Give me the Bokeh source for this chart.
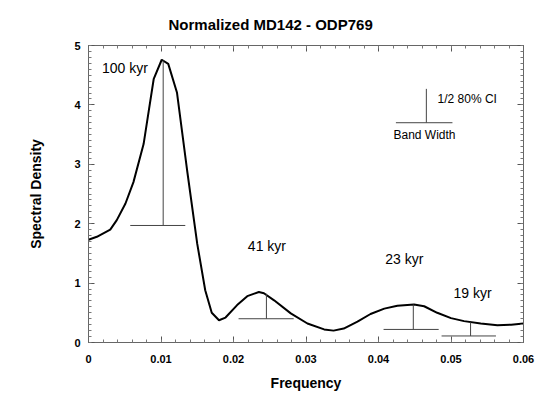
from bokeh.plotting import figure
from bokeh.models import Range1d, LinearAxis, SingleIntervalTicker, Label, CustomJSTickFormatter
from bokeh.core.properties import value
from bokeh.embed import file_html
from bokeh.resources import INLINE

# ---- data ----
freq = [0, 0.00115, 0.003, 0.0039, 0.0051, 0.0062, 0.0076, 0.0083, 0.009, 0.0101, 0.011,
        0.0122, 0.0136, 0.015, 0.0161, 0.017, 0.018, 0.0189, 0.0205, 0.0219, 0.0235,
        0.0242, 0.0256, 0.0279, 0.0302, 0.0325, 0.0338, 0.0352, 0.0371, 0.0389, 0.0408,
        0.0426, 0.0449, 0.0463, 0.0481, 0.05, 0.0518, 0.0541, 0.0564, 0.0583, 0.06]
density = [1.73, 1.78, 1.90, 2.06, 2.34, 2.70, 3.34, 3.89, 4.44, 4.76, 4.69,
           4.21, 2.90, 1.66, 0.88, 0.50, 0.375, 0.42, 0.63, 0.78, 0.85,
           0.83, 0.71, 0.49, 0.32, 0.22, 0.20, 0.235, 0.35, 0.48, 0.57,
           0.62, 0.64, 0.61, 0.50, 0.41, 0.36, 0.32, 0.29, 0.30, 0.32]

# confidence interval markers (vertical = 1/2 80% CI, horizontal = band width)
ci_freq = [0.0103, 0.02454, 0.0448, 0.0527, 0.0466]
ci_top = [4.75, 0.82, 0.64, 0.34, 4.27]
ci_bottom = [1.97, 0.40, 0.22, 0.11, 3.70]
bw_left = [0.00576, 0.0207, 0.0407, 0.0487, 0.0424]
bw_right = [0.01335, 0.0283, 0.0483, 0.0562, 0.0502]

peak_labels = ["100 kyr", "41 kyr", "23 kyr", "19 kyr"]
peak_label_x = [0.00185, 0.02198, 0.04092, 0.05035]
peak_label_y = [4.62, 1.62, 1.405, 0.84]

x_tick_labels = {0: "0", 0.01: "0.01", 0.02: "0.02", 0.03: "0.03", 0.04: "0.04", 0.05: "0.05", 0.06: "0.06"}

FONT = "Liberation Sans"

p = figure(width=535, height=394, output_backend="svg", toolbar_location=None,
           x_range=Range1d(0, 0.06), y_range=Range1d(0, 5),
           x_axis_type=None, y_axis_type=None,
           min_border_left=88, min_border_right=12, min_border_top=45, min_border_bottom=52)
p.xgrid.visible = False
p.ygrid.visible = False
p.outline_line_color = "#666666"
p.outline_line_width = 1
p.background_fill_color = "white"
p.border_fill_color = "white"

p.title.text = "Normalized MD142 - ODP769"
p.title.text_font = FONT
p.title.text_font_size = "15px"
p.title.text_font_style = "bold"
p.title.text_color = "black"
p.title.align = "left"
p.title.offset = 80
p.title.standoff = 25

blank = CustomJSTickFormatter(code="return '';")

def style(ax, labels=True):
    ax.major_tick_in = 6
    ax.major_tick_out = 0
    ax.minor_tick_in = 3
    ax.minor_tick_out = 0
    ax.axis_line_color = "#666666"
    ax.major_tick_line_color = "#555555"
    ax.minor_tick_line_color = "#777777"
    ax.major_label_text_font = FONT
    ax.major_label_text_font_style = "bold"
    ax.major_label_text_font_size = "11px"
    ax.major_label_text_color = "black"
    if not labels:
        ax.formatter = blank
        ax.major_label_standoff = 0

xb = LinearAxis(ticker=SingleIntervalTicker(interval=0.01, num_minor_ticks=5))
style(xb)
xb.major_label_standoff = 12
xb.major_label_overrides = x_tick_labels
xb.axis_label = "Frequency"
xb.axis_label_text_font = FONT
xb.axis_label_text_font_style = "bold"
xb.axis_label_text_font_size = "14px"
xb.axis_label_text_color = "black"
xb.axis_label_standoff = 9
p.add_layout(xb, "below")

xt = LinearAxis(ticker=SingleIntervalTicker(interval=0.01, num_minor_ticks=5))
style(xt, labels=False)
p.add_layout(xt, "above")

yl = LinearAxis(ticker=SingleIntervalTicker(interval=1, num_minor_ticks=10))
style(yl)
yl.major_label_standoff = 8
yl.axis_label = "Spectral Density"
yl.axis_label_text_font = FONT
yl.axis_label_text_font_style = "bold"
yl.axis_label_text_font_size = "14px"
yl.axis_label_text_color = "black"
yl.axis_label_standoff = 27
p.add_layout(yl, "left")

yr = LinearAxis(ticker=SingleIntervalTicker(interval=1, num_minor_ticks=10))
style(yr, labels=False)
p.add_layout(yr, "right")

# spectrum
p.line(freq, density, line_color="black", line_width=2)

# CI markers
p.segment(x0=ci_freq, y0=ci_bottom, x1=ci_freq, y1=ci_top, line_color="#444444", line_width=1)
p.segment(x0=bw_left, y0=ci_bottom, x1=bw_right, y1=ci_bottom, line_color="#444444", line_width=1)

# peak labels
p.text(x=peak_label_x, y=peak_label_y, text=peak_labels, text_font=value(FONT),
       text_font_size="14px", text_baseline="middle", text_align="left", text_color="black")

p.add_layout(Label(x=0.04814, y=4.10, text="1/2 80% CI", text_font=FONT, text_font_size="12px",
                   text_baseline="middle", text_align="left", text_color="black"))
p.add_layout(Label(x=0.04207, y=3.50, text="Band Width", text_font=FONT, text_font_size="12px",
                   text_baseline="middle", text_align="left", text_color="black"))

open("out.html", "w").write(file_html(p, INLINE))
